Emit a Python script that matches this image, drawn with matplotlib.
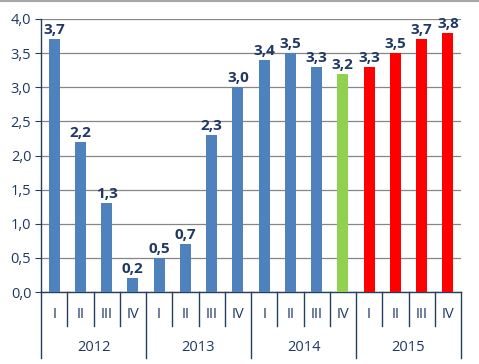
import matplotlib.pyplot as plt
import numpy as np

plt.rcParams['font.family'] = ['Open Sans', 'DejaVu Sans']

years = ['2012', '2013', '2014', '2015']
quarters = ['I', 'II', 'III', 'IV']
values = [3.7, 2.2, 1.3, 0.2,
          0.5, 0.7, 2.3, 3.0,
          3.4, 3.5, 3.3, 3.2,
          3.3, 3.5, 3.7, 3.8]
colors = ['#4F81BD'] * 11 + ['#92D050'] + ['#FF0000'] * 4

text_col = '#1F3864'
axis_col = '#243F60'

fig = plt.figure(figsize=(4.79, 3.64), dpi=100)
ax = fig.add_axes([41 / 479, 1 - 292 / 364, (461 - 41) / 479, (292 - 19) / 364])

x = np.arange(len(values))
ax.bar(x, values, width=0.42, color=colors, zorder=3)

for xi, v in zip(x, values):
    ax.text(xi, v + 0.03, f'{v:.1f}'.replace('.', ','), ha='center', va='bottom',
            fontsize=11, fontweight='bold', color=text_col, zorder=4)

ax.set_xlim(-0.5, len(values) - 0.5)
ax.set_ylim(0, 4.0)
yt = np.arange(0, 4.01, 0.5)
ax.set_yticks(yt)
ax.set_yticklabels([f'{t:.1f}'.replace('.', ',') for t in yt], fontsize=10.5, color=text_col)
ax.tick_params(axis='y', direction='out', length=4, color=axis_col, pad=3)
ax.yaxis.grid(True, color='#868686', linewidth=0.9, zorder=0)
ax.set_xticks([])

for s in ['top', 'right']:
    ax.spines[s].set_visible(False)
for s in ['left', 'bottom']:
    ax.spines[s].set_color(axis_col)
    ax.spines[s].set_linewidth(1.0)

# multi-level category axis
tr = ax.get_xaxis_transform()
n_q = len(quarters)
for i in range(len(values) + 1):
    bottom = -0.242 if i % n_q == 0 else -0.1245
    ax.plot([i - 0.5, i - 0.5], [0, bottom], color=axis_col, linewidth=1.0,
            transform=tr, clip_on=False)
for i in range(len(values)):
    ax.text(i, -0.084, quarters[i % n_q], ha='center', va='center',
            fontsize=10.5, color=text_col, transform=tr)
for j, yr in enumerate(years):
    ax.text(j * n_q + (n_q - 1) / 2, -0.2015, yr, ha='center', va='center',
            fontsize=10.5, color=text_col, transform=tr)

# chart frame line at top
fig.add_artist(plt.Line2D([0, 1], [0.997, 0.997], color='#A6A6A6', linewidth=1.5,
                          transform=fig.transFigure))

fig.savefig('out.png', dpi=100)
